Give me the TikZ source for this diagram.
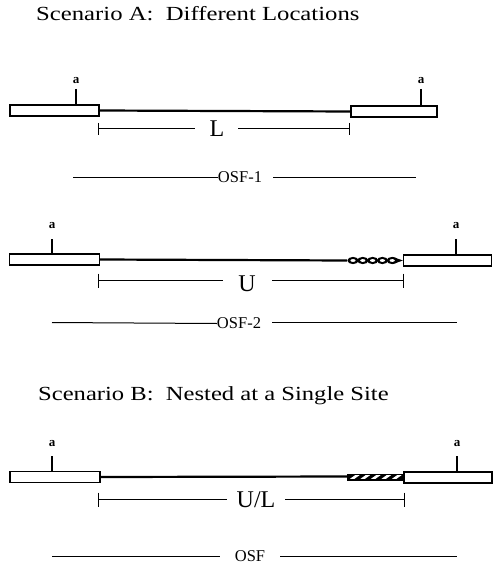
\documentclass[tikz,border=0pt]{standalone}
\usepackage{fontspec}
\setmainfont{Liberation Serif}
\begin{document}
\begin{tikzpicture}[x=1pt,y=-1pt,
  box/.style={draw,line width=1.2pt,fill=white,inner sep=0pt,minimum height=11pt},
  dna/.style={line width=2.2pt},
  tickline/.style={line width=1.2pt},
  alab/.style={font=\bfseries\fontsize{13}{13}\selectfont,inner sep=0pt},
  title/.style={font=\fontsize{20}{22}\selectfont,anchor=base west,inner sep=0pt},
  biglab/.style={font=\fontsize{24}{26}\selectfont,inner sep=0pt},
  osflab/.style={font=\fontsize{16.5}{17}\selectfont,inner sep=0pt},
  rule/.style={line width=1pt}]
\useasboundingbox (0,0) rectangle (493,564);

% Titles
\node[title] (tA) at (36,21) {\scalebox{1.235}[1]{Scenario A:\ \ Different Locations}};
\node[title] (tB) at (38,400) {\scalebox{1.23}[1]{Scenario B:\ \ Nested at a Single Site}};

% ---------- Row 1 ----------
\node[box,minimum width=89pt] (b1l) at (54.5,110.5) {};
\node[box,minimum width=86pt] (b1r) at (394,111.5) {};
\draw[dna] (b1l.east) -- (b1r.west);
\node[alab] (a1l) at (76,81) {a};
\node[alab] (a1r) at (421,81) {a};
\coordinate (t1l) at (76,89);
\coordinate (t1r) at (421,89);
\draw[tickline] (t1l) -- (t1l |- b1l.north);
\draw[tickline] (t1r) -- (t1r |- b1r.north);
\node[biglab] (L) at (217,129) {L};
\coordinate (L1) at (98,129);
\coordinate (L2) at (349,129);
\draw[rule] (L1) -- (195,129);
\draw[rule] (238,129) -- (L2);
\draw[rule] (L1) ++(0,-6) -- ++(0,12);
\draw[rule] (L2) ++(0,-6) -- ++(0,12);
\node[osflab] (o1) at (240,177) {OSF-1};
\coordinate (o1a) at (73,177);
\coordinate (o1b) at (416,177);
\draw[rule] (o1a) -- (o1.west);
\draw[rule] (273,177) -- (o1b);

% ---------- Row 2 ----------
\node[box,minimum width=90pt] (b2l) at (54.5,259.5) {};
\node[box,minimum width=88pt] (b2r) at (447.5,260.5) {};
\coordinate (c2s) at (347,260.5);
\draw[dna] (b2l.east) -- (c2s);
\foreach \i in {0,...,4} {
  \fill (353+\i*9.8,260.5) ellipse (5.6pt and 3.6pt);
}
\fill (393,257) -- (b2r.west) -- (393,264) -- cycle;
\foreach \i in {0,...,4} {
  \fill[white] (353+\i*9.8,260.5) ellipse (2.6pt and 1.4pt);
}
\node[alab] (a2l) at (52,226) {a};
\node[alab] (a2r) at (456,226) {a};
\coordinate (t2l) at (52,239);
\coordinate (t2r) at (456,239);
\draw[tickline] (t2l) -- (t2l |- b2l.north);
\draw[tickline] (t2r) -- (t2r |- b2r.north);
\node[biglab] (U) at (247,284) {U};
\coordinate (U1) at (98,280.5);
\coordinate (U2) at (403,280.5);
\draw[rule] (U1) -- (223,280.5);
\draw[rule] (272,280.5) -- (U2);
\draw[rule] (U1) ++(0,-7) -- ++(0,14);
\draw[rule] (U2) ++(0,-7) -- ++(0,14);
\node[osflab] (o2) at (239,323.5) {OSF-2};
\coordinate (o2a) at (52,322.5);
\coordinate (o2b) at (457,322.5);
\draw[rule] (o2a) -- (o2.west);
\draw[rule] (272,322.5) -- (o2b);

% ---------- Row 3 ----------
\node[box,minimum width=90pt] (b3l) at (55,477) {};
\node[box,minimum width=88pt] (b3r) at (448,477.5) {};
\coordinate (h3s) at (347,476.5);
\draw[dna] (b3l.east) -- (h3s);
\fill (347,473.5) rectangle (404,480.5);
\foreach \i in {0,...,4} {
  \fill[white] (350+\i*10.5,478.8) -- (354.5+\i*10.5,478.8) -- (359.5+\i*10.5,475.2) -- (355+\i*10.5,475.2) -- cycle;
}
\draw[line width=1.2pt] (b3r.north west) rectangle (b3r.south east);
\node[alab] (a3l) at (52,444) {a};
\node[alab] (a3r) at (457,444) {a};
\coordinate (t3l) at (52,456);
\coordinate (t3r) at (457,456);
\draw[tickline] (t3l) -- (t3l |- b3l.north);
\draw[tickline] (t3r) -- (t3r |- b3r.north);
\node[biglab] (UL) at (256,500) {U/L};
\coordinate (UL1) at (98,499.5);
\coordinate (UL2) at (404,499.5);
\draw[rule] (UL1) -- (227,499.5);
\draw[rule] (285,499.5) -- (UL2);
\draw[rule] (UL1) ++(0,-7) -- ++(0,14);
\draw[rule] (UL2) ++(0,-7) -- ++(0,14);
\node[osflab] (o3) at (250,556) {OSF};
\coordinate (o3a) at (52,556.5);
\coordinate (o3b) at (457,556.5);
\draw[rule] (o3a) -- (220,556.5);
\draw[rule] (280,556.5) -- (o3b);
\end{tikzpicture}
\end{document}
